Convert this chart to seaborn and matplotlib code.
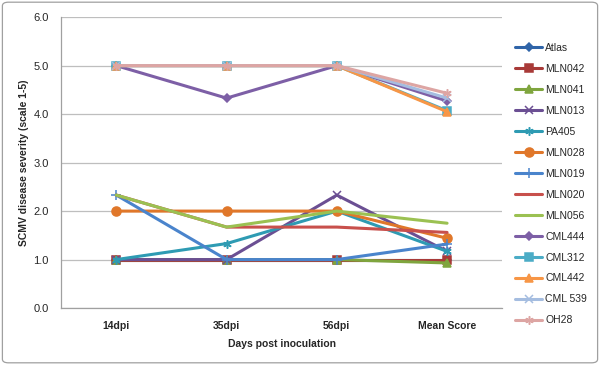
import matplotlib
matplotlib.use("Agg")
import matplotlib.pyplot as plt
import seaborn as sns
import pandas as pd
from matplotlib.patches import FancyBboxPatch
from matplotlib.ticker import FixedLocator

categories = ["14dpi", "35dpi", "56dpi", "Mean Score"]
series_names = ["Atlas", "MLN042", "MLN041", "MLN013", "PA405", "MLN028", "MLN019",
                "MLN020", "MLN056", "CML444", "CML312", "CML442", "CML 539", "OH28"]
atlas   = [1.0, 1.0, 1.0, 1.0]
mln042  = [1.0, 1.0, 1.0, 1.0]
mln041  = [1.0, 1.0, 1.0, 0.93]
mln013  = [1.0, 1.0, 2.33, 1.17]
pa405   = [1.0, 1.33, 2.0, 1.17]
mln028  = [2.0, 2.0, 2.0, 1.44]
mln019  = [2.33, 1.0, 1.0, 1.32]
mln020  = [2.33, 1.67, 1.67, 1.56]
mln056  = [2.33, 1.67, 2.0, 1.75]
cml444  = [5.0, 4.33, 5.0, 4.27]
cml312  = [5.0, 5.0, 5.0, 4.07]
cml442  = [5.0, 5.0, 5.0, 4.05]
cml539  = [5.0, 5.0, 5.0, 4.33]
oh28    = [5.0, 5.0, 5.0, 4.43]
all_values = [atlas, mln042, mln041, mln013, pa405, mln028, mln019,
              mln020, mln056, cml444, cml312, cml442, cml539, oh28]

colors = ["#2F64A8", "#A83A38", "#7FA53E", "#6B4F93", "#2E9BB3", "#E0772A", "#4A84CC",
          "#C8504C", "#9BC152", "#7D5FA6", "#4BACC6", "#F79646", "#A5BDE0", "#DDA5A3"]
markers = ["D", "s", "^", "x", (6, 2, 0), "o", "+", None, None, "D", "s", "^", "x", (6, 2, 0)]
msizes = [4, 5.5, 6, 5.5, 6, 6.5, 7, 0, 0, 4, 5.5, 6, 5.5, 6]

rows = []
for name, vals in zip(series_names, all_values):
    for i, v in enumerate(vals):
        rows.append({"series": name, "x": i, "value": v})
df = pd.DataFrame(rows)

sns.set_style("white")
plt.rcParams["font.family"] = ["Liberation Sans", "DejaVu Sans"]

fig = plt.figure(figsize=(6.0, 3.65), dpi=100)
ax = fig.add_axes([0.102, 0.156, 0.735, 0.797])

for name, c, m, ms in zip(series_names, colors, markers, msizes):
    sub = df[df["series"] == name]
    kw = dict(color=c, linewidth=2.2, label=name)
    if m is not None:
        kw.update(marker=m, markersize=ms, markeredgecolor=c, markerfacecolor=c,
                  markeredgewidth=1.1)
    sns.lineplot(data=sub, x="x", y="value", ax=ax, sort=False, **kw)

ax.set_xlim(-0.5, 3.5)
ax.set_ylim(0, 6)
ax.set_yticks([0, 1, 2, 3, 4, 5, 6])
ax.set_yticklabels([f"{v:.1f}" for v in range(7)], fontsize=8)
ax.set_xticks(range(4))
ax.set_xticklabels(categories, fontsize=7.5, fontweight="bold")
ax.xaxis.set_minor_locator(FixedLocator([-0.5, 0.5, 1.5, 2.5, 3.5]))
ax.tick_params(axis="x", which="major", length=0, pad=9)
ax.tick_params(axis="x", which="minor", length=4, color="#A0A0A0", direction="out")
ax.tick_params(axis="y", length=4, color="#A0A0A0", direction="out", pad=5)
ax.grid(axis="y", color="#BEBEBE", linewidth=0.9)
ax.set_axisbelow(True)
for s in ["top", "right"]:
    ax.spines[s].set_visible(False)
for s in ["left", "bottom"]:
    ax.spines[s].set_color("#A0A0A0")
    ax.spines[s].set_linewidth(0.9)

ax.set_xlabel("Days post inoculation", fontsize=7.5, fontweight="bold", labelpad=6)
ax.set_ylabel("SCMV disease severity (scale 1-5)", fontsize=7.5, fontweight="bold", labelpad=3)

leg = ax.legend(loc="upper left", bbox_to_anchor=(1.02, 0.925), frameon=False,
                fontsize=7.5, handlelength=2.6, labelspacing=1.05, handletextpad=0.3,
                borderaxespad=0)

fig.patches.append(FancyBboxPatch((0.004, 0.006), 0.992, 0.988,
                                  boxstyle="round,pad=0,rounding_size=0.01",
                                  transform=fig.transFigure, fill=False,
                                  edgecolor="#A0A0A0", linewidth=0.9))

fig.savefig("out.png", dpi=100)
